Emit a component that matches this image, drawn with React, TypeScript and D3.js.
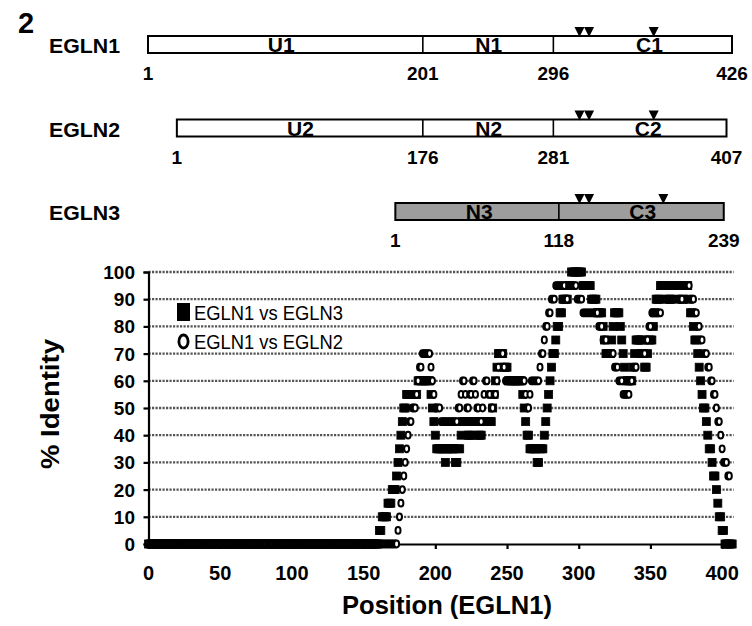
import * as d3 from 'd3';
import React, { useEffect, useRef } from 'react';

const FONT = "'Liberation Sans', Arial, Helvetica, sans-serif";

// domain diagram (bars are aligned on EGLN1 numbering)
const proteinNames = ['EGLN1', 'EGLN2', 'EGLN3'];
const domainNames = [['U1', 'N1', 'C1'], ['U2', 'N2', 'C2'], ['N3', 'C3']];
const domainBorders = [[1, 201, 296, 426], [22, 201, 296, 422], [181, 300, 420]];
const borderLabels = [['1', '201', '296', '426'], ['1', '176', '281', '407'], ['1', '118', '239']];
const domainLabelPos = [[98, 249, 366], [112, 249, 365], [242, 361]];
const sitePos = [[315, 322, 369], [315, 322, 369], [315, 322, 376]];
const barFills = ['#ffffff', '#ffffff', '#9d9d9d'];

// identity plot
const positionTicks = [0, 50, 100, 150, 200, 250, 300, 350, 400];
const identityTicks = [0, 10, 20, 30, 40, 50, 60, 70, 80, 90, 100];
const seriesNames = ['EGLN1 vs EGLN3', 'EGLN1 vs EGLN2'];

// runs of equal % identity: [first position, last position, % identity]
const egln3Runs = [
  [0, 160, 0], [161, 162, 5], [163, 166, 10], [167, 169, 15], [170, 172, 20], [173, 173, 25],
  [174, 174, 30], [175, 175, 35], [176, 176, 40], [177, 177, 45], [178, 179, 50], [180, 187, 55],
  [188, 196, 60], [197, 197, 55], [198, 198, 50], [199, 199, 45], [200, 200, 40], [201, 206, 35],
  [207, 207, 30], [208, 213, 35], [214, 215, 30], [216, 217, 35], [218, 218, 40], [219, 222, 45],
  [223, 225, 40], [226, 229, 45], [230, 232, 40], [233, 239, 45], [240, 240, 50], [241, 241, 55],
  [242, 242, 60], [243, 243, 65], [244, 247, 70], [248, 250, 65], [251, 260, 60], [261, 261, 55],
  [262, 262, 50], [263, 263, 45], [264, 265, 40], [266, 270, 35], [271, 272, 30], [273, 275, 35],
  [276, 276, 40], [277, 277, 45], [278, 278, 50], [279, 279, 55], [280, 280, 60], [281, 281, 65],
  [282, 283, 70], [284, 284, 75], [285, 286, 80], [287, 288, 85], [289, 292, 90], [293, 294, 95],
  [295, 302, 100], [303, 308, 95], [309, 312, 90], [313, 316, 85], [317, 317, 80], [318, 318, 75],
  [319, 322, 70], [323, 323, 75], [324, 324, 80], [325, 328, 85], [329, 329, 80], [330, 330, 75],
  [331, 331, 70], [332, 332, 65], [333, 337, 60], [338, 338, 65], [339, 339, 70], [340, 344, 75],
  [345, 345, 70], [346, 347, 65], [348, 348, 70], [349, 351, 75], [352, 352, 80], [353, 353, 85],
  [354, 356, 90], [357, 362, 95], [363, 364, 90], [365, 371, 95], [372, 373, 90], [374, 376, 95],
  [377, 377, 90], [378, 379, 85], [380, 380, 80], [381, 382, 75], [383, 383, 70], [384, 384, 65],
  [385, 385, 60], [386, 386, 55], [387, 388, 50], [389, 389, 45], [390, 390, 40], [391, 392, 35],
  [393, 393, 30], [394, 395, 25], [396, 396, 20], [397, 397, 15], [398, 399, 10], [400, 401, 5],
  [402, 407, 0],
];

const egln2Runs = [
  [0, 173, 0], [174, 174, 5], [175, 175, 10], [176, 176, 15], [177, 177, 20], [178, 178, 25],
  [179, 179, 30], [180, 180, 35], [181, 181, 40], [182, 183, 45], [184, 186, 50], [187, 187, 55],
  [188, 188, 60], [189, 190, 65], [191, 196, 70], [197, 197, 65], [198, 198, 60], [199, 199, 55],
  [200, 203, 50], [204, 215, 45], [216, 217, 50], [218, 218, 55], [219, 220, 60], [221, 221, 55],
  [222, 223, 50], [224, 225, 55], [226, 227, 60], [228, 228, 55], [229, 230, 50], [231, 232, 45],
  [233, 233, 50], [234, 234, 55], [235, 236, 60], [237, 238, 55], [239, 240, 50], [241, 242, 55],
  [243, 243, 60], [244, 244, 65], [245, 247, 70], [248, 248, 65], [249, 262, 60], [263, 263, 55],
  [264, 265, 50], [266, 266, 55], [267, 272, 60], [273, 273, 65], [274, 275, 70], [276, 276, 75],
  [277, 278, 80], [279, 280, 85], [281, 283, 90], [284, 290, 95], [291, 292, 90], [293, 298, 95],
  [299, 302, 90], [303, 313, 85], [314, 316, 80], [317, 319, 75], [320, 324, 70], [325, 327, 65],
  [328, 330, 60], [331, 335, 55], [336, 337, 60], [338, 340, 65], [341, 346, 70], [347, 348, 75],
  [349, 350, 80], [351, 357, 85], [358, 372, 90], [373, 377, 95], [378, 380, 90], [381, 382, 85],
  [383, 384, 80], [385, 386, 75], [387, 389, 70], [390, 391, 65], [392, 393, 60], [394, 395, 55],
  [396, 396, 50], [397, 398, 45], [399, 399, 40], [400, 400, 35], [401, 403, 30], [404, 405, 25],
];

// one point per residue from the runs
const expand = (runs) =>
  runs.flatMap(([a, b, v]) => d3.range(a, b + 1).map((p) => ({ pos: p, value: v })));

function draw(svg) {
  const text = (g, str, x, y, size, opts: any = {}) => {
    const t = g.append('text')
      .attr('x', x)
      .attr('y', y)
      .attr('font-family', FONT)
      .attr('font-size', size)
      .attr('font-weight', opts.weight || 'bold')
      .attr('text-anchor', opts.anchor || 'start')
      .attr('fill', opts.fill || '#000')
      .text(str);
    if (opts.length) t.attr('textLength', opts.length).attr('lengthAdjust', 'spacingAndGlyphs');
    if (opts.transform) t.attr('transform', opts.transform);
    return t;
  };

  // panel number
  text(svg, '2', 18, 33, 29);

  // ---------- domain bars ----------
  const alignX = d3.scaleLinear().domain([1, 426]).range([148, 732]);
  const rowTop = d3.scaleLinear().domain([0, 2]).range([36, 203]);
  const barH = 17;

  proteinNames.forEach((name, i) => {
    const top = rowTop(i);
    const b = domainBorders[i];
    const g = svg.append('g');

    text(g, name, 49, top + barH, 21, { length: 71 });

    g.append('rect')
      .attr('x', alignX(b[0]))
      .attr('y', top)
      .attr('width', alignX(b[b.length - 1]) - alignX(b[0]))
      .attr('height', barH)
      .attr('fill', barFills[i])
      .attr('stroke', '#000')
      .attr('stroke-width', 2);

    b.slice(1, -1).forEach((r) => {
      g.append('line')
        .attr('x1', alignX(r)).attr('x2', alignX(r))
        .attr('y1', top).attr('y2', top + barH)
        .attr('stroke', '#000').attr('stroke-width', 1.6);
    });

    domainNames[i].forEach((d, j) => {
      text(g, d, alignX(domainLabelPos[i][j]), top + barH - 1, 21, { anchor: 'middle' });
    });

    // sites, small down triangles on top of the bar
    const tri = d3.line();
    sitePos[i].forEach((r) => {
      const cx = alignX(r);
      g.append('path')
        .attr('d', tri([[cx - 5, top - 9], [cx + 5, top - 9], [cx, top + 1]]) + 'Z')
        .attr('fill', '#000');
    });

    b.forEach((r, j) => {
      text(g, borderLabels[i][j], alignX(r), top + barH + 27, 19, { anchor: 'middle' });
    });
  });

  // ---------- identity plot ----------
  const x = d3.scaleLinear().domain([0, 408]).range([148.5, 733.6]);
  const y = d3.scaleLinear().domain([0, 100]).range([544, 272]);

  const plot = svg.append('g');

  // dotted grid
  plot.selectAll('line.grid')
    .data(identityTicks.filter((t) => t > 0))
    .enter()
    .append('line')
    .attr('class', 'grid')
    .attr('x1', x(0)).attr('x2', x(408))
    .attr('y1', (d) => y(d)).attr('y2', (d) => y(d))
    .attr('stroke', '#555')
    .attr('stroke-width', 2.3)
    .attr('stroke-dasharray', '2.2,1.3');

  // axes
  const yAxis = d3.axisLeft(y).tickValues(identityTicks).tickSize(5).tickFormat(() => '');
  plot.append('g')
    .attr('transform', `translate(${x(0)},0)`)
    .call(yAxis)
    .call((g) => g.selectAll('path,line').attr('stroke', '#000').attr('stroke-width', 2.2));

  const xAxis = d3.axisBottom(x).tickValues(positionTicks).tickSize(5).tickSizeOuter(0).tickFormat(() => '');
  plot.append('g')
    .attr('transform', `translate(0,${y(0)})`)
    .call(xAxis)
    .call((g) => g.selectAll('path,line').attr('stroke', '#000').attr('stroke-width', 2.2));

  identityTicks.forEach((t) => {
    text(plot, String(t), 135, y(t) + 7, 19, { anchor: 'end' });
  });
  positionTicks.forEach((t) => {
    text(plot, String(t), x(t), 580, 20, { anchor: 'middle' });
  });

  text(plot, 'Position (EGLN1)', 447, 614, 25, { anchor: 'middle', length: 210 });
  text(plot, '% Identity', 0, 0, 25, {
    anchor: 'middle', length: 130, transform: 'translate(59,404) rotate(-90)',
  });

  // EGLN1 vs EGLN3: filled squares
  const squares = expand(egln3Runs);
  plot.append('g')
    .selectAll('rect')
    .data(squares)
    .enter()
    .append('rect')
    .attr('x', (d) => x(d.pos) - 4)
    .attr('y', (d) => y(d.value) - 4)
    .attr('width', 8)
    .attr('height', 8)
    .attr('fill', '#000')
    .attr('stroke', '#000')
    .attr('stroke-width', 0.8);

  // EGLN1 vs EGLN2: open circles
  const circles = expand(egln2Runs);
  plot.append('g')
    .selectAll('ellipse')
    .data(circles)
    .enter()
    .append('ellipse')
    .attr('cx', (d) => x(d.pos))
    .attr('cy', (d) => y(d.value))
    .attr('rx', 2.5)
    .attr('ry', 3.4)
    .attr('fill', '#fff')
    .attr('stroke', '#000')
    .attr('stroke-width', 2);

  // legend
  const legend = plot.append('g');
  legend.append('rect')
    .attr('x', 177).attr('y', 303)
    .attr('width', 13).attr('height', 18)
    .attr('fill', '#000');
  legend.append('ellipse')
    .attr('cx', 183.5).attr('cy', 341.5)
    .attr('rx', 4.6).attr('ry', 6.5)
    .attr('fill', '#fff')
    .attr('stroke', '#000')
    .attr('stroke-width', 2.8);
  text(legend, seriesNames[0], 194, 320, 21, { weight: 'normal', length: 149 });
  text(legend, seriesNames[1], 194, 349, 21, { weight: 'normal', length: 149 });
}

export default function App() {
  const ref = useRef<SVGSVGElement>(null);

  useEffect(() => {
    const svg = d3.select(ref.current);
    svg.selectAll('*').remove();
    draw(svg);
  }, []);

  return (
    <svg
      ref={ref}
      width={752}
      height={626}
      style={{ position: 'absolute', left: 0, top: 0, background: '#fff' }}
    />
  );
}
